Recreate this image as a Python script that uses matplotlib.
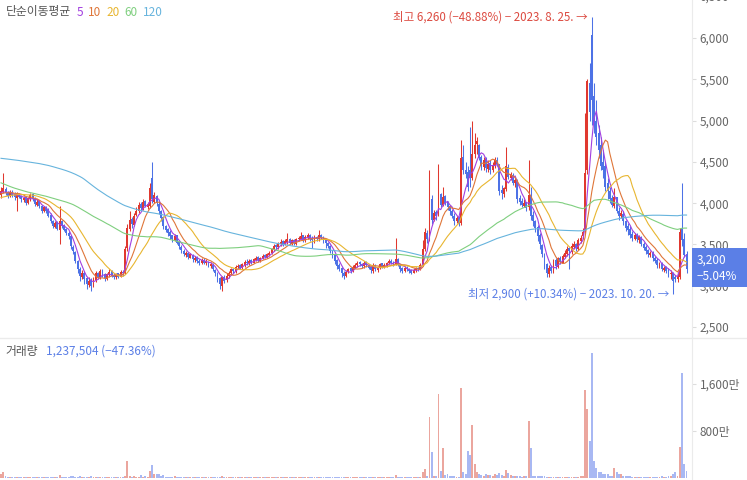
import numpy as np
import pandas as pd
import matplotlib
matplotlib.use('Agg')
import matplotlib.pyplot as plt
from matplotlib.ticker import FuncFormatter
from matplotlib.lines import Line2D
from matplotlib.patches import Rectangle

plt.rcParams['font.family'] = ['Noto Sans CJK KR', 'DejaVu Sans']

# 일봉 시가 / 고가 / 저가 / 종가 (원)
opens = [
    4100, 4140, 4170, 4130, 4090, 4140, 4110, 4060, 4100, 4090,
    4040, 4070, 4000, 4050, 4110, 4060, 3980, 4030, 3970, 3900,
    3950, 3920, 3860, 3790, 3710, 3770, 3680, 3790, 3730, 3690,
    3640, 3600, 3470, 3410, 3300, 3200, 3110, 3160, 3090, 3010,
    3070, 3000, 3070, 3160, 3100, 3190, 3140, 3080, 3130, 3180,
    3130, 3100, 3150, 3110, 3170, 3160, 3460, 3690, 3810, 3740,
    3860, 3900, 3990, 3930, 4030, 3950, 3960, 4300, 4020, 4090,
    3990, 3900, 3830, 3720, 3690, 3650, 3610, 3550, 3610, 3530,
    3470, 3420, 3370, 3400, 3340, 3370, 3310, 3350, 3300, 3270,
    3310, 3270, 3290, 3240, 3250, 3190, 3150, 3090, 3000, 3110,
    3070, 3120, 3150, 3200, 3180, 3230, 3250, 3220, 3250, 3290,
    3270, 3310, 3280, 3310, 3350, 3300, 3330, 3370, 3340, 3370,
    3400, 3440, 3490, 3470, 3500, 3540, 3510, 3530, 3570, 3510,
    3550, 3510, 3560, 3570, 3610, 3550, 3590, 3620, 3580, 3540,
    3590, 3560, 3620, 3580, 3550, 3520, 3480, 3410, 3370, 3310,
    3250, 3210, 3160, 3120, 3170, 3210, 3180, 3220, 3250, 3290,
    3260, 3240, 3290, 3250, 3230, 3180, 3250, 3190, 3220, 3270,
    3230, 3250, 3270, 3300, 3280, 3260, 3320, 3250, 3210, 3180,
    3220, 3200, 3190, 3160, 3190, 3220, 3200, 3260, 3450, 3640,
    3560, 4050, 3800, 3890, 3860, 4110, 3980, 4090, 4010, 3960,
    3900, 3850, 3780, 3820, 3760, 4560, 4400, 4380, 4400, 4300,
    4600, 4720, 4700, 4560, 4440, 4530, 4410, 4490, 4400, 4460,
    4520, 4470, 4160, 4110, 4170, 4440, 4300, 4340, 4240, 4270,
    4060, 4030, 3970, 4010, 3950, 4100, 3860, 3790, 3710, 3620,
    3490, 3380, 3260, 3140, 3230, 3170, 3310, 3230, 3340, 3280,
    3350, 3390, 3460, 3410, 3470, 3510, 3450, 3540, 3600, 3660,
    4400, 5450, 6040, 5300, 5000, 4850, 4700, 4500, 4450, 4250,
    4150, 4060, 3960, 4070, 3910, 3840, 3870, 3790, 3720, 3690,
    3630, 3570, 3620, 3550, 3590, 3510, 3470, 3430, 3370, 3400,
    3340, 3310, 3240, 3280, 3190, 3230, 3190, 3140, 3150, 3110,
    3080, 3100, 3700, 3560, 3380,
]
highs = [
    4200, 4360, 4190, 4150, 4160, 4160, 4130, 4140, 4120, 4100,
    4090, 4080, 4080, 4120, 4120, 4070, 4050, 4040, 3980, 3970,
    3970, 3940, 3880, 3800, 3790, 3790, 3970, 3800, 3750, 3700,
    3660, 3610, 3490, 3420, 3310, 3230, 3190, 3180, 3100, 3100,
    3090, 3100, 3180, 3170, 3200, 3200, 3150, 3160, 3200, 3190,
    3150, 3160, 3160, 3190, 3190, 3480, 3750, 3900, 3830, 3880,
    3950, 4020, 4010, 4050, 4040, 4020, 4250, 4500, 4130, 4100,
    4010, 3920, 3840, 3740, 3700, 3670, 3620, 3630, 3620, 3540,
    3490, 3440, 3420, 3410, 3400, 3380, 3360, 3360, 3320, 3330,
    3330, 3320, 3300, 3290, 3270, 3200, 3170, 3100, 3120, 3130,
    3150, 3180, 3220, 3220, 3250, 3260, 3260, 3280, 3310, 3320,
    3320, 3320, 3340, 3360, 3360, 3350, 3380, 3390, 3400, 3420,
    3460, 3500, 3510, 3530, 3560, 3550, 3560, 3640, 3580, 3570,
    3570, 3580, 3600, 3650, 3620, 3610, 3640, 3630, 3600, 3610,
    3600, 3680, 3630, 3600, 3560, 3530, 3490, 3430, 3380, 3320,
    3270, 3230, 3180, 3190, 3220, 3230, 3250, 3270, 3300, 3300,
    3280, 3300, 3300, 3260, 3240, 3280, 3260, 3240, 3280, 3280,
    3270, 3290, 3320, 3320, 3300, 3580, 3330, 3260, 3230, 3240,
    3240, 3220, 3200, 3210, 3230, 3230, 3280, 3550, 3700, 3680,
    4400, 4100, 3920, 3920, 4480, 4120, 4200, 4100, 4030, 3980,
    3930, 3880, 3850, 3840, 4760, 4700, 4500, 4450, 4920, 5000,
    4850, 4800, 4720, 4580, 4560, 4560, 4520, 4520, 4500, 4560,
    4560, 4480, 4220, 4200, 4680, 4480, 4380, 4360, 4320, 4290,
    4100, 4060, 4050, 4020, 4520, 4200, 3900, 3800, 3730, 3640,
    3500, 3400, 3270, 3250, 3250, 3320, 3330, 3350, 3360, 3380,
    3430, 3480, 3470, 3520, 3540, 3520, 3580, 3620, 3700, 5090,
    5500, 5700, 6260, 5450, 5250, 4950, 4800, 4650, 4500, 4300,
    4200, 4100, 4180, 4080, 3950, 3920, 3900, 3800, 3760, 3720,
    3660, 3640, 3640, 3620, 3600, 3530, 3490, 3440, 3420, 3420,
    3360, 3330, 3290, 3290, 3240, 3240, 3210, 3190, 3170, 3130,
    3150, 3700, 4240, 3640, 3420,
]
lows = [
    4060, 4120, 4100, 4060, 4070, 4080, 4040, 3900, 4060, 4020,
    4020, 3980, 3990, 4030, 4030, 3970, 3960, 3940, 3880, 3890,
    3880, 3830, 3760, 3700, 3700, 3670, 3500, 3700, 3660, 3620,
    3570, 3450, 3390, 3270, 3150, 3060, 3080, 3020, 2960, 2980,
    2940, 2980, 3050, 3080, 3080, 3110, 3060, 3070, 3110, 3100,
    3080, 3080, 3090, 3100, 3120, 3140, 3420, 3660, 3700, 3720,
    3840, 3880, 3920, 3920, 3950, 3930, 3940, 4000, 4000, 3960,
    3870, 3780, 3690, 3650, 3600, 3560, 3530, 3540, 3500, 3440,
    3400, 3360, 3350, 3320, 3330, 3290, 3290, 3270, 3250, 3260,
    3260, 3250, 3230, 3220, 3180, 3120, 3040, 2960, 2940, 3030,
    3050, 3090, 3130, 3160, 3160, 3200, 3200, 3200, 3230, 3250,
    3250, 3260, 3270, 3300, 3290, 3290, 3320, 3330, 3330, 3360,
    3380, 3420, 3440, 3450, 3480, 3480, 3490, 3510, 3500, 3490,
    3490, 3490, 3540, 3560, 3530, 3530, 3570, 3540, 3460, 3520,
    3540, 3540, 3560, 3520, 3460, 3460, 3400, 3330, 3260, 3200,
    3180, 3110, 3080, 3100, 3150, 3160, 3170, 3210, 3230, 3240,
    3220, 3220, 3230, 3200, 3160, 3160, 3180, 3170, 3200, 3210,
    3210, 3230, 3260, 3260, 3240, 3250, 3240, 3170, 3160, 3170,
    3180, 3160, 3140, 3150, 3170, 3180, 3190, 3240, 3420, 3520,
    3540, 3750, 3780, 3800, 3840, 3950, 3960, 3980, 3920, 3860,
    3820, 3740, 3760, 3720, 3740, 4350, 4300, 4150, 4200, 4280,
    4550, 4600, 4520, 4400, 4400, 4380, 4380, 4350, 4380, 4430,
    4450, 4100, 4050, 4080, 4150, 4290, 4280, 4220, 4200, 4000,
    3980, 3950, 3950, 3900, 3920, 3800, 3720, 3650, 3540, 3450,
    3350, 3200, 3100, 3100, 3150, 3150, 3200, 3210, 3260, 3270,
    3330, 3360, 3200, 3390, 3450, 3420, 3430, 3520, 3560, 3640,
    4350, 5000, 4950, 4850, 4700, 4550, 4400, 4300, 4150, 4050,
    4000, 3950, 3940, 3880, 3800, 3820, 3740, 3660, 3620, 3580,
    3540, 3550, 3530, 3520, 3480, 3430, 3390, 3350, 3350, 3300,
    3280, 3220, 3220, 3180, 3170, 3150, 3100, 3080, 2900, 3040,
    3050, 3080, 3480, 3350, 3150,
]
closes = [
    4150, 4180, 4120, 4090, 4130, 4100, 4070, 4110, 4080, 4050,
    4060, 4000, 4060, 4100, 4050, 3990, 4020, 3960, 3900, 3950,
    3900, 3850, 3780, 3720, 3760, 3690, 3780, 3720, 3680, 3640,
    3600, 3480, 3420, 3300, 3200, 3120, 3150, 3080, 3020, 3060,
    3000, 3080, 3150, 3100, 3180, 3130, 3090, 3140, 3170, 3120,
    3100, 3140, 3110, 3170, 3150, 3450, 3700, 3800, 3750, 3850,
    3900, 3980, 3940, 4020, 3960, 3990, 4180, 4050, 4100, 4000,
    3900, 3820, 3720, 3680, 3640, 3600, 3560, 3600, 3520, 3480,
    3430, 3380, 3400, 3350, 3380, 3320, 3340, 3300, 3280, 3310,
    3280, 3300, 3250, 3260, 3200, 3150, 3080, 3020, 3100, 3060,
    3120, 3150, 3200, 3180, 3230, 3240, 3220, 3260, 3290, 3280,
    3300, 3280, 3320, 3340, 3310, 3330, 3360, 3350, 3380, 3400,
    3440, 3480, 3470, 3510, 3530, 3500, 3540, 3560, 3520, 3550,
    3520, 3560, 3580, 3600, 3550, 3590, 3610, 3570, 3550, 3590,
    3560, 3620, 3580, 3540, 3520, 3480, 3420, 3360, 3300, 3240,
    3200, 3150, 3120, 3170, 3200, 3180, 3230, 3250, 3280, 3260,
    3240, 3280, 3250, 3220, 3190, 3250, 3200, 3220, 3260, 3230,
    3250, 3270, 3300, 3280, 3260, 3320, 3250, 3200, 3180, 3220,
    3200, 3180, 3160, 3190, 3210, 3200, 3250, 3450, 3650, 3560,
    4050, 3800, 3880, 3850, 4100, 3980, 4080, 4000, 3950, 3900,
    3850, 3780, 3820, 3760, 4550, 4400, 4350, 4200, 4300, 4600,
    4700, 4750, 4550, 4450, 4520, 4420, 4480, 4400, 4460, 4520,
    4480, 4150, 4120, 4180, 4450, 4320, 4350, 4250, 4280, 4050,
    4020, 3980, 4000, 3940, 4100, 3850, 3780, 3700, 3600, 3500,
    3380, 3250, 3150, 3220, 3180, 3300, 3240, 3330, 3290, 3360,
    3400, 3450, 3420, 3480, 3500, 3460, 3550, 3580, 3650, 4360,
    5480, 5100, 5250, 4950, 4800, 4650, 4450, 4400, 4200, 4150,
    4050, 3980, 4080, 3900, 3850, 3880, 3780, 3700, 3680, 3620,
    3580, 3620, 3560, 3600, 3500, 3460, 3420, 3380, 3400, 3330,
    3300, 3250, 3270, 3200, 3220, 3180, 3150, 3160, 3060, 3080,
    3100, 3650, 3550, 3370, 3200,
]
# 거래량 (만 주)
volumes_man = [
    60, 100, 30, 20, 25, 18, 20, 22, 18, 20,
    18, 22, 20, 15, 18, 20, 16, 18, 22, 20,
    25, 22, 20, 18, 22, 20, 50, 25, 22, 20,
    25, 35, 30, 22, 25, 28, 20, 18, 22, 20,
    35, 20, 18, 22, 18, 20, 16, 18, 20, 18,
    18, 20, 16, 18, 22, 40, 290, 35, 25, 30,
    22, 25, 55, 20, 30, 22, 120, 220, 70, 70,
    70, 40, 45, 25, 22, 20, 18, 30, 22, 20,
    18, 20, 16, 18, 20, 18, 16, 18, 20, 18,
    16, 18, 15, 16, 18, 20, 22, 25, 30, 22,
    20, 18, 16, 18, 15, 16, 18, 15, 16, 18,
    15, 16, 14, 18, 15, 16, 14, 15, 18, 16,
    18, 20, 16, 18, 20, 16, 18, 22, 18, 16,
    18, 16, 20, 22, 18, 16, 20, 18, 22, 16,
    18, 25, 18, 16, 18, 20, 22, 25, 20, 18,
    20, 22, 18, 16, 18, 20, 16, 18, 15, 16,
    15, 16, 14, 15, 18, 20, 16, 15, 14, 16,
    15, 16, 18, 15, 14, 45, 18, 16, 15, 14,
    15, 14, 16, 15, 16, 18, 25, 100, 150, 40,
    1040, 440, 40, 35, 1430, 120, 510, 50, 60, 40,
    40, 30, 25, 20, 1530, 110, 70, 460, 390, 900,
    240, 110, 60, 50, 40, 60, 45, 55, 40, 60,
    55, 80, 50, 40, 140, 80, 45, 40, 35, 30,
    30, 25, 30, 30, 970, 510, 40, 35, 30, 30,
    35, 30, 25, 22, 20, 18, 22, 20, 18, 20,
    18, 20, 22, 20, 18, 20, 25, 30, 40, 1500,
    1170, 630, 2130, 290, 170, 100, 95, 70, 65, 60,
    40, 35, 170, 100, 60, 70, 40, 35, 30, 30,
    25, 22, 20, 25, 22, 20, 18, 20, 18, 22,
    20, 18, 22, 35, 20, 18, 30, 30, 60, 100,
    40, 530, 1790, 235.0881, 123.7504,
]
# 이동평균 계산용 이전 120일 종가
hist_closes = [
    4480, 4500, 4520, 4490, 4510, 4530, 4500, 4480, 4520, 4550,
    4530, 4510, 4540, 4560, 4530, 4500, 4520, 4550, 4570, 4540,
    4580, 4620, 4600, 4650, 4680, 4650, 4700, 4720, 4690, 4740,
    4760, 4720, 4750, 4780, 4760,
    4800, 5000, 5300, 5500, 5700, 5600, 5500, 5600, 5500, 5400,
    5300, 5350, 5200, 5100, 5000,
    5050, 4980, 5020, 4950, 4900, 4950, 4880, 4920, 4850, 4900,
    4820, 4850, 4780, 4800, 4750,
    4700, 4650, 4620, 4580, 4550, 4520, 4480, 4500, 4450, 4420,
    4380, 4400, 4350, 4320, 4300,
    4280, 4300, 4250, 4220, 4250, 4200, 4180, 4200, 4150, 4120,
    4150, 4100, 4080, 4120, 4100, 4060, 4080, 4050, 4030, 4060,
    4020, 4050, 4000, 3980, 4020, 4000, 4050, 4030, 4000, 4060,
    4080, 4050, 4100, 4080, 4120, 4100, 4150, 4130, 4100, 4120,
]

ma_windows = [5, 10, 20, 60, 120]
ma_colors = ['#a23fe0', '#df7639', '#e8b630', '#7fcf7f', '#67b4dd']
high_date = '2023. 8. 25.'
low_date = '2023. 10. 20.'
price_ticks = [2500, 3000, 3500, 4000, 4500, 5000, 5500, 6000]
vol_ticks = [8e6, 16e6]

RED = '#e0382f'
BLUE = '#4d72e6'
RED_V = '#eba69e'
BLUE_V = '#a8b8f3'
LBLUE = '#5b7fe6'
GRID = '#ebebeb'
LABEL = '#666666'

o = np.array(opens, float)
h = np.array(highs, float)
l = np.array(lows, float)
c = np.array(closes, float)
v = np.array(volumes_man) * 1e4
n = len(c)
idx = np.arange(n)

full = pd.Series(np.concatenate([hist_closes, c]))
mas = {w: full.rolling(w).mean().values[len(hist_closes):] for w in ma_windows}

W, H = 747, 480
fig = plt.figure(figsize=(W / 100, H / 100), dpi=100)
pw = 692 / W
ax = fig.add_axes([0, 1 - 337 / H, pw, 337 / H])
axv = fig.add_axes([0, 0, pw, 142 / H], sharex=ax)

up = c >= o
col = np.where(up, RED, BLUE)

# candles
ax.vlines(idx, l, h, colors=col, lw=0.75, zorder=2)
body = np.maximum(np.abs(c - o), 12)
ax.bar(idx, body, bottom=np.minimum(o, c), width=0.85, color=col, lw=0, zorder=2)

# moving averages
for w, mc in zip(ma_windows, ma_colors):
    ax.plot(idx, mas[w], color=mc, lw=0.8, zorder=3)

# volume
axv.bar(idx, v, width=0.85, color=np.where(up, RED_V, BLUE_V), lw=0)

ax.set_xlim(-0.45, 692 / 2.255 - 0.45)
ax.set_ylim(2379, 6461)
axv.set_ylim(-0.34e6, 23.83e6)

for a in (ax, axv):
    for s in ('top', 'left', 'bottom'):
        a.spines[s].set_visible(False)
    a.spines['right'].set_color(GRID)
    a.yaxis.tick_right()
    a.tick_params(axis='y', length=3, width=0.8, color='#dddddd',
                  labelcolor=LABEL, labelsize=8.5, pad=2.5)
    a.tick_params(axis='x', bottom=False, labelbottom=False)

ax.set_yticks(price_ticks)
ax.yaxis.set_major_formatter(FuncFormatter(lambda y, p: f'{int(y):,}'))
axv.set_yticks(vol_ticks)
axv.yaxis.set_major_formatter(FuncFormatter(lambda y, p: f'{int(y / 1e4):,}만'))

# 6,500 label cut by the top edge
ax.text(1 + 7.5 / 692, 6500, '6,500', transform=ax.get_yaxis_transform(),
        ha='left', va='center', fontsize=8.5, color=LABEL, clip_on=False)

fig.add_artist(Line2D([0, 1], [1 - 337.5 / H] * 2, transform=fig.transFigure,
                      color=GRID, lw=1))

# high / low annotations
last = c[-1]
hi_i = int(np.argmax(h))
lo_i = int(np.argmin(l))
hi_pct = f'{(last - h[hi_i]) / h[hi_i] * 100:+.2f}%'.replace('-', '−')
lo_pct = f'{(last - l[lo_i]) / l[lo_i] * 100:+.2f}%'.replace('-', '−')
ax.annotate(f'최고 {int(h[hi_i]):,} ({hi_pct}) − {high_date} →',
            xy=(hi_i, h[hi_i]), xytext=(-3, 0), textcoords='offset points',
            ha='right', va='center', fontsize=8.3, color='#dc4a40')
ax.annotate(f'최저 {int(l[lo_i]):,} ({lo_pct}) − {low_date} →',
            xy=(lo_i, l[lo_i]), xytext=(-3, 0), textcoords='offset points',
            ha='right', va='center', fontsize=8.3, color=LBLUE)

# current price box
chg = f'{(c[-1] - c[-2]) / c[-2] * 100:+.2f}%'.replace('-', '−')
fig.add_artist(Rectangle((692 / W, 1 - 287 / H), 55 / W, 39 / H,
                         transform=fig.transFigure, color=LBLUE, lw=0))
fig.text(697 / W, 1 - 260 / H, f'{int(last):,}', color='white', fontsize=8.5,
         ha='left', va='center')
fig.text(697 / W, 1 - 276 / H, chg, color='white', fontsize=8.5,
         ha='left', va='center')

# legend (top left), placed one after another
renderer = fig.canvas.get_renderer()
x = 6
t = fig.text(x / W, 1 - 12 / H, '단순이동평균', color='#555555', fontsize=8.5,
             va='center')
x += t.get_window_extent(renderer).width + 5
for w, mc in zip(ma_windows, ma_colors):
    t = fig.text(x / W, 1 - 12 / H, str(w), color=mc, fontsize=8.5, va='center')
    x += t.get_window_extent(renderer).width + 5

# volume label
vchg = f'{(v[-1] - v[-2]) / v[-2] * 100:+.2f}%'.replace('-', '−')
fig.text(5 / W, 1 - 351 / H, '거래량', color='#555555', fontsize=8.5, va='center')
fig.text(46 / W, 1 - 351 / H, f'{int(round(v[-1])):,} ({vchg})', color=LBLUE,
         fontsize=8.5, va='center')

fig.savefig('out.png', dpi=100)
